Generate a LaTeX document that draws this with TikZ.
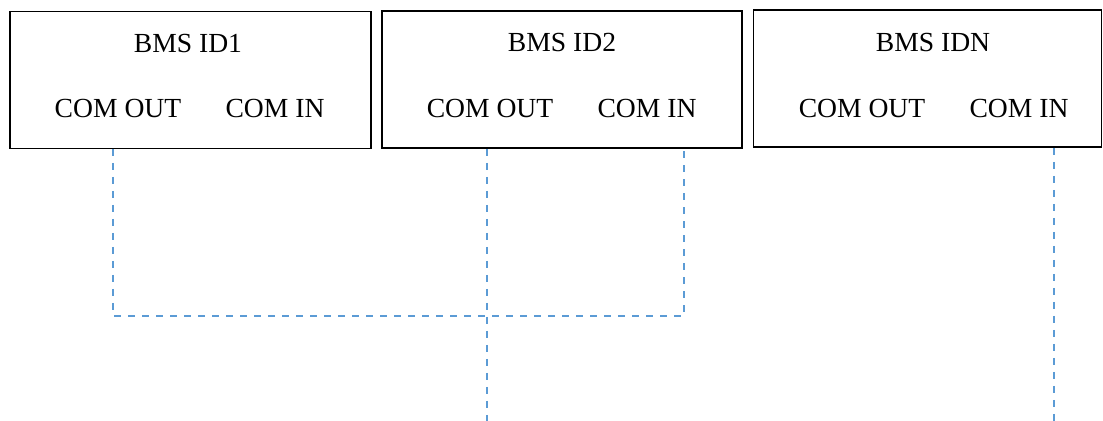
\documentclass[tikz,border=0pt]{standalone}
\usepackage{fontspec}
\setmainfont{Liberation Serif}
\usetikzlibrary{positioning}
\definecolor{linkblue}{RGB}{91,155,213}
\tikzstyle{bmsbox} = [rectangle, draw=black, line width=0.9pt, minimum height=68.5pt, inner sep=0pt]
\tikzstyle{tag} = [font=\fontsize{13.8}{16}\selectfont, inner sep=0pt]
\tikzstyle{link} = [line width=0.7pt, color=linkblue, dash pattern=on 3.6pt off 3.4pt]

\begin{document}
\begin{tikzpicture}[x=0.5pt, y=-0.5pt]
\useasboundingbox (0,0) rectangle (1103,421);
% boxes
\node (bms1) [bmsbox, minimum width=180.5pt] at (190.5,80) {};
\node (bms2) [bmsbox, minimum width=180pt] at (562,79.5) {};
\node (bmsN) [bmsbox, minimum width=174pt] at (927.5,78.5) {};
% labels
\node (id1) [tag] at (188,44) {BMS ID1};
\node (out1) [tag] at (118,109) {COM OUT};
\node (in1) [tag] at (275,109) {COM IN};
\node (id2) [tag] at (562,43) {BMS ID2};
\node (out2) [tag] at (490,109) {COM OUT};
\node (in2) [tag] at (647,109) {COM IN};
\node (idN) [tag] at (933,43) {BMS IDN};
\node (outN) [tag] at (862,109) {COM OUT};
\node (inN) [tag] at (1019,109) {COM IN};
% connection points
\coordinate (p1) at (113,149);
\coordinate (p2) at (487,149);
\coordinate (p3) at (684,149);
\coordinate (p4) at (1054,148);
\coordinate (j1) at (113,316);
\coordinate (j3) at (684,316);
\coordinate (e2) at (487,421);
\coordinate (e4) at (1054,421);
\draw[link] (p1) -- (j1) -- (j3) -- (p3);
\draw[link] (p2) -- (e2);
\draw[link] (p4) -- (e4);
\end{tikzpicture}
\end{document}
